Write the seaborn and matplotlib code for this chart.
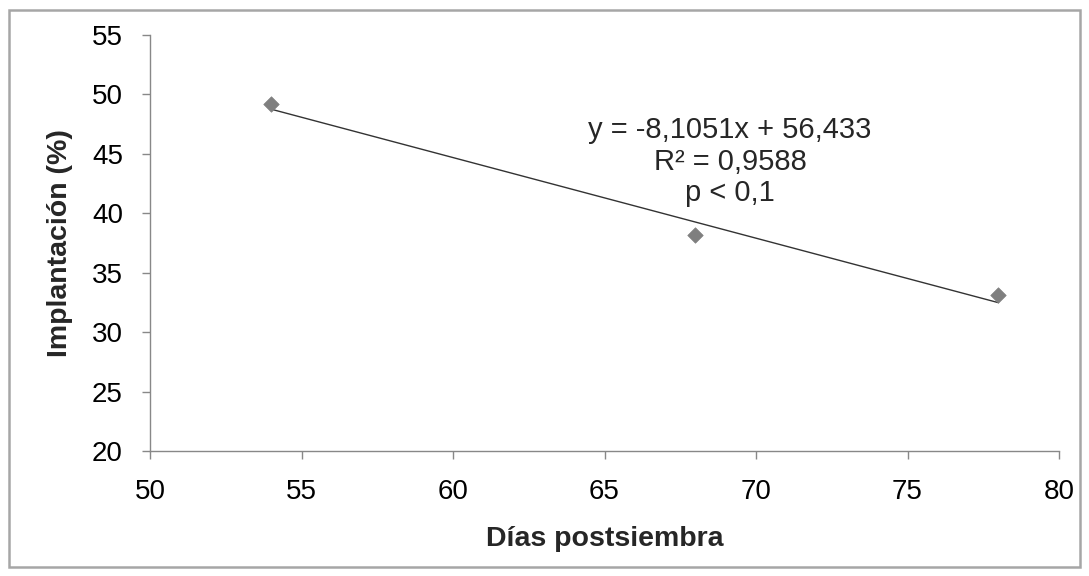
import matplotlib
matplotlib.use("Agg")
import matplotlib.pyplot as plt
import seaborn as sns
import pandas as pd
from matplotlib.patches import Rectangle

dias = [54, 68, 78]
implantacion = [49.2, 38.2, 33.1]
x_ticks = [50, 55, 60, 65, 70, 75, 80]
y_ticks = [20, 25, 30, 35, 40, 45, 50, 55]
eq_lines = ["y = -8,1051x + 56,433", "R² = 0,9588", "p < 0,1"]

sns.set_theme(style="white")
plt.rcParams['font.family'] = ['Liberation Sans', 'DejaVu Sans']

df = pd.DataFrame({"dias": dias, "impl": implantacion})

W, H = 1089, 576
fig = plt.figure(figsize=(W / 100, H / 100), dpi=100)
ax = fig.add_axes([150 / W, 1 - 451 / H, (1059 - 150) / W, (451 - 35) / H])

sns.regplot(data=df, x="dias", y="impl", scatter=False, ci=None, truncate=True,
            line_kws=dict(color="#333333", lw=1.0), ax=ax)
sns.scatterplot(data=df, x="dias", y="impl", marker="D", s=62, color="#7f7f7f",
                edgecolor="#7f7f7f", linewidth=0.5, ax=ax, zorder=3)

ax.set_xlim(50, 80)
ax.set_ylim(20, 55)
ax.set_xticks(x_ticks)
ax.set_yticks(y_ticks)
ax.tick_params(axis="both", direction="out", length=6, width=1, color="#888888",
               labelsize=20, labelcolor="black")
ax.tick_params(axis="x", pad=14.5, bottom=True)
ax.tick_params(axis="y", pad=13.5, left=True)
for s in ["top", "right"]:
    ax.spines[s].set_visible(False)
for s in ["left", "bottom"]:
    ax.spines[s].set_color("#888888")
    ax.spines[s].set_linewidth(1.0)

ax.set_xlabel("Días postsiembra", fontsize=20.5, fontweight="bold", labelpad=15)
ax.set_ylabel("Implantación (%)", fontsize=20.5, fontweight="bold", labelpad=13.5)

line_y = [46.33, 43.64, 41.03]
for txt, yy in zip(eq_lines, line_y):
    ax.text(69.14, yy, txt, ha="center", va="baseline", fontsize=21)

fig.patches.append(Rectangle((8.5 / W, 9.5 / H), 1 - 18 / W, 1 - 19 / H, transform=fig.transFigure,
                             fill=False, edgecolor="#a6a6a6", lw=1.8))

fig.savefig("out.png", dpi=100)
